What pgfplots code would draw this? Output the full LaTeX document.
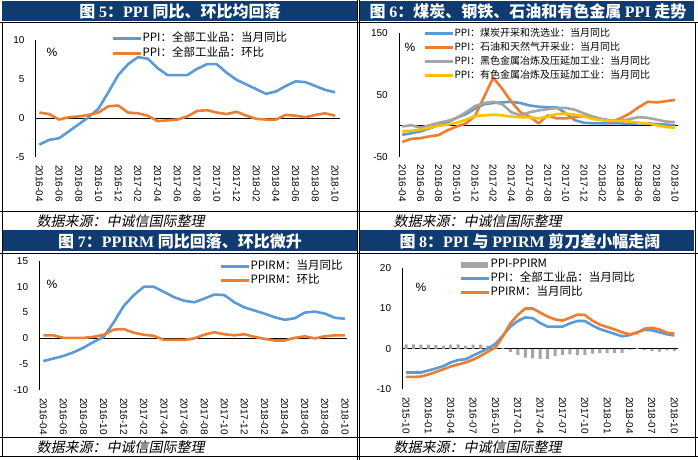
\documentclass[border=0pt]{standalone}
\usepackage{pgfplots}
\pgfplotsset{compat=1.18}
\usepackage{fontspec}
\setmainfont{Liberation Sans}
\newfontfamily\cjk{Noto Sans CJK SC}
\newfontfamily\cjkit{Noto Sans CJK SC}[FakeSlant=0.2]
\newfontfamily\serifb{Liberation Serif}
\newcommand\lat[1]{{\serifb #1}}
\newcommand\ttl{\cjk\bfseries\fontsize{16bp}{18bp}\selectfont}
\newcommand\foot{\cjkit\fontsize{14bp}{16bp}\selectfont}
\definecolor{navy}{HTML}{0F3B6F}
\definecolor{cblue}{HTML}{5B9BD5}
\definecolor{corange}{HTML}{ED7D31}
\definecolor{cgray}{HTML}{A5A5A5}
\definecolor{cyellow}{HTML}{FFC000}
\pgfplotsset{
  base/.style={
    scale only axis,
    axis x line*=bottom, axis y line*=left,
    x axis line style={draw=none},
    y axis line style={-, line width=0.75bp, black},
    major tick length=0pt,
    tick label style={font=\fontsize{10bp}{12bp}\selectfont, inner sep=0pt},
    xticklabel style={rotate=-90, anchor=west},
    xticklabel shift=8bp,
    yticklabel shift=11bp,
    extra y ticks={0}, extra y tick labels={},
    extra y tick style={grid=major, major grid style={black, line width=0.75bp}},
    legend cell align=left,
    legend image code/.code={\draw[#1, line width=2.6bp] (0bp,0bp) -- (28bp,0bp);},
    legend style={draw=none, fill=none, inner sep=0pt, outer sep=0pt,
      nodes={inner sep=0pt, text height=8.5bp, text depth=2.5bp},
      /tikz/every even column/.style={column sep=1bp}},
    every axis plot/.append style={line width=2.6bp, line join=round},
  },
  m16/.style={xtick={0,2,...,30}, xticklabels={2016-04,2016-06,2016-08,2016-10,2016-12,2017-02,2017-04,2017-06,2017-08,2017-10,2017-12,2018-02,2018-04,2018-06,2018-08,2018-10}},
}
\begin{document}
\begin{tikzpicture}
\useasboundingbox (0bp,0bp) rectangle (698bp,460bp);
% title bars
\fill[navy] (2bp,439bp) rectangle (357.5bp,458.5bp);
\fill[navy] (360bp,439bp) rectangle (694bp,458.5bp);
\fill[navy] (2bp,208.5bp) rectangle (357.5bp,230bp);
\fill[navy] (360bp,208.5bp) rectangle (694bp,230bp);
\node[text=white] at (180bp,448.5bp) {\ttl 图 \lat{5}：\lat{PPI} 同比、环比均回落};
\node[text=white] at (528bp,448.5bp) {\ttl 图 \lat{6}：煤炭、钢铁、石油和有色金属 \lat{PPI} 走势};
\node[text=white] at (180bp,219bp) {\ttl 图 \lat{7}：\lat{PPIRM} 同比回落、环比微升};
\node[text=white] at (530bp,219bp) {\ttl 图 \lat{8}：\lat{PPI} 与 \lat{PPIRM} 剪刀差小幅走阔};
% frame lines
\begin{scope}[line width=0.8bp]
\draw (0bp,438bp) -- (698bp,438bp);
\draw (0bp,249bp) -- (698bp,249bp);
\draw (0bp,207bp) -- (698bp,207bp);
\draw (0bp,22.5bp) -- (698bp,22.5bp);
\draw (0bp,4bp) -- (698bp,4bp);
\draw (2bp,4bp) -- (2bp,438bp);
\draw (357.8bp,0bp) -- (357.8bp,460bp);
\draw (359.8bp,0bp) -- (359.8bp,460bp);
\draw (695bp,4bp) -- (695bp,438bp);
\end{scope}
% footers
\node[anchor=west] at (33bp,239bp) {\foot 数据来源：中诚信国际整理};
\node[anchor=west] at (390bp,239bp) {\foot 数据来源：中诚信国际整理};
\node[anchor=west] at (33bp,12.5bp) {\foot 数据来源：中诚信国际整理};
\node[anchor=west] at (390bp,12.5bp) {\foot 数据来源：中诚信国际整理};
% percent labels
\node[font=\fontsize{12bp}{14bp}\selectfont] at (52bp,408bp) {\%};
\node[font=\fontsize{12bp}{14bp}\selectfont] at (410bp,412.3bp) {\%};
\node[font=\fontsize{12bp}{14bp}\selectfont] at (52bp,176bp) {\%};
\node[font=\fontsize{12bp}{14bp}\selectfont] at (421bp,173bp) {\%};

% ---------- Panel 5
\begin{axis}[base, m16, at={(35.7bp,303bp)}, anchor=south west,
  width=304.3bp, height=117bp, xmin=-0.37, xmax=30.5, ymin=-5, ymax=10,
  ytick={-5,0,5,10}, yticklabels={-5,0,5,10},
  legend style={at={(0.2507,1.06)}, anchor=north west,
    font=\cjk\fontsize{11.5bp}{13bp}\selectfont, row sep=4bp}]
\addplot[cblue] coordinates {(0,-3.4)(1,-2.8)(2,-2.6)(3,-1.7)(4,-0.8)(5,0.1)(6,1.2)(7,3.3)(8,5.5)(9,6.9)(10,7.8)(11,7.6)(12,6.4)(13,5.5)(14,5.5)(15,5.5)(16,6.3)(17,6.9)(18,6.9)(19,5.8)(20,4.9)(21,4.3)(22,3.7)(23,3.1)(24,3.4)(25,4.1)(26,4.7)(27,4.6)(28,4.1)(29,3.6)(30,3.3)};
\addlegendentry{PPI：全部工业品：当月同比}
\addplot[corange] coordinates {(0,0.7)(1,0.5)(2,-0.2)(3,0.1)(4,0.2)(5,0.4)(6,0.7)(7,1.5)(8,1.6)(9,0.7)(10,0.6)(11,0.3)(12,-0.4)(13,-0.3)(14,-0.2)(15,0.2)(16,0.9)(17,1.0)(18,0.7)(19,0.5)(20,0.8)(21,0.3)(22,-0.1)(23,-0.2)(24,-0.2)(25,0.4)(26,0.3)(27,0.1)(28,0.4)(29,0.6)(30,0.3)};
\addlegendentry{PPI：全部工业品：环比}
\end{axis}

% ---------- Panel 6
\begin{axis}[base, m16, at={(399bp,303.3bp)}, anchor=south west,
  width=279bp, height=123.4bp, xmin=-0.36, xmax=30.33, ymin=-50, ymax=150,
  ytick={-50,50,150}, yticklabels={-50,50,150},
  legend style={at={(0.0896,1.043)}, anchor=north west,
    font=\cjk\fontsize{10bp}{12bp}\selectfont, row sep=3bp}]
\addplot[cblue] coordinates {(0,-14.4)(1,-12)(2,-9)(3,-4)(4,1)(5,6)(6,13)(7,19)(8,28)(9,35)(10,37)(11,38)(12,39)(13,37)(14,33)(15,31)(16,30)(17,30)(18,20)(19,9)(20,5)(21,4)(22,4)(23,4)(24,4)(25,3)(26,4)(27,4)(28,3)(29,2)(30,1)};
\addlegendentry{PPI：煤炭开采和洗选业：当月同比}
\addplot[corange] coordinates {(0,-26)(1,-21)(2,-20)(3,-17)(4,-15)(5,-7)(6,-1)(7,4)(8,16)(9,47)(10,78)(11,60)(12,39)(13,22)(14,15)(15,4)(16,17)(17,12)(18,12)(19,14)(20,16)(21,12)(22,10)(23,7)(24,12)(25,20)(26,30)(27,39)(28,38)(29,40)(30,42)};
\addlegendentry{PPI：石油和天然气开采业：当月同比}
\addplot[cgray] coordinates {(0,-1)(1,1)(2,-3)(3,1)(4,5)(5,8)(6,13)(7,22)(8,32)(9,37)(10,39)(11,35)(12,22)(13,17)(14,22)(15,25)(16,27)(17,29)(18,29)(19,26)(20,20)(21,15)(22,11)(23,9)(24,8)(25,11)(26,14)(27,13)(28,10)(29,7)(30,6)};
\addlegendentry{PPI：黑色金属冶炼及压延加工业：当月同比}
\addplot[cyellow] coordinates {(0,-9)(1,-8)(2,-6)(3,-3)(4,0)(5,2)(6,5)(7,10)(8,16)(9,17)(10,18)(11,17)(12,15)(13,14)(14,14)(15,12)(16,15)(17,19)(18,20)(19,18)(20,15)(21,11)(22,9)(23,8)(24,8)(25,7)(26,5)(27,4)(28,1)(29,-2)(30,-3)};
\addlegendentry{PPI：有色金属冶炼及压延加工业：当月同比}
\end{axis}

% ---------- Panel 7
\begin{axis}[base, m16, at={(39.3bp,70bp)}, anchor=south west,
  width=307.7bp, height=129bp, xmin=-0.4, xmax=30.2, ymin=-10, ymax=15,
  ytick={-10,-5,0,5,10,15}, yticklabels={-10,-5,0,5,10,15},
  legend style={at={(0.587,1.0)}, anchor=north west,
    font=\cjk\fontsize{11.5bp}{13bp}\selectfont, row sep=3bp}]
\addplot[cblue] coordinates {(0,-4.4)(1,-3.9)(2,-3.4)(3,-2.7)(4,-1.8)(5,-0.7)(6,0.3)(7,3.1)(8,6.3)(9,8.4)(10,10.0)(11,10.0)(12,9.0)(13,8.0)(14,7.3)(15,7.0)(16,7.7)(17,8.5)(18,8.4)(19,7.0)(20,6.0)(21,5.4)(22,4.8)(23,4.1)(24,3.6)(25,3.9)(26,5.0)(27,5.2)(28,4.8)(29,4.0)(30,3.8)};
\addlegendentry{PPIRM：当月同比}
\addplot[corange] coordinates {(0,0.6)(1,0.6)(2,0.1)(3,0.1)(4,0.1)(5,0.3)(6,0.7)(7,1.7)(8,1.8)(9,1.1)(10,0.7)(11,0.5)(12,-0.3)(13,-0.3)(14,-0.3)(15,0.0)(16,0.7)(17,1.2)(18,0.8)(19,0.6)(20,0.8)(21,0.3)(22,-0.1)(23,-0.4)(24,-0.4)(25,0.1)(26,0.4)(27,0.0)(28,0.4)(29,0.6)(30,0.6)};
\addlegendentry{PPIRM：环比}
\end{axis}

% ---------- Panel 8
\begin{axis}[base, at={(402.3bp,71bp)}, anchor=south west,
  width=275.7bp, height=120.7bp, xmin=-0.5, xmax=36.5, ymin=-10, ymax=20,
  ytick={-10,0,10,20}, yticklabels={-10,0,10,20},
  xtick={0,3,...,36}, xticklabels={2015-10,2016-01,2016-04,2016-07,2016-10,2017-01,2017-04,2017-07,2017-10,2018-01,2018-04,2018-07,2018-10},
  legend style={at={(0.209,1.077)}, anchor=north west,
    font=\cjk\fontsize{11.5bp}{13bp}\selectfont, row sep=3bp}]
\addplot[ybar, bar width=3bp, fill=cgray, draw=none, line width=0pt,
  legend image code/.code={\fill[cgray] (0bp,-3bp) rectangle (27bp,3bp);}]
  coordinates {(0,1.1)(1,1.1)(2,1.0)(3,1.0)(4,0.9)(5,0.8)(6,1.0)(7,1.1)(8,0.8)(9,1.0)(10,1.0)(11,0.8)(12,0.9)(13,0.2)(14,-0.8)(15,-1.5)(16,-2.2)(17,-2.4)(18,-2.6)(19,-2.5)(20,-1.8)(21,-1.5)(22,-1.4)(23,-1.6)(24,-1.5)(25,-1.2)(26,-1.1)(27,-1.1)(28,-1.1)(29,-1.0)(30,-0.2)(31,0.2)(32,-0.3)(33,-0.6)(34,-0.7)(35,-0.4)(36,-0.5)};
\addlegendentry{PPI-PPIRM}
\addplot[cblue] coordinates {(0,-5.9)(1,-5.9)(2,-5.9)(3,-5.4)(4,-4.9)(5,-4.3)(6,-3.4)(7,-2.8)(8,-2.6)(9,-1.7)(10,-0.8)(11,0.1)(12,1.2)(13,3.3)(14,5.5)(15,6.9)(16,7.8)(17,7.6)(18,6.4)(19,5.5)(20,5.5)(21,5.5)(22,6.3)(23,6.9)(24,6.9)(25,5.8)(26,4.9)(27,4.3)(28,3.7)(29,3.1)(30,3.4)(31,4.1)(32,4.7)(33,4.6)(34,4.1)(35,3.6)(36,3.3)};
\addlegendentry{PPI：全部工业品：当月同比}
\addplot[corange] coordinates {(0,-7.0)(1,-7.0)(2,-6.9)(3,-6.4)(4,-5.8)(5,-5.1)(6,-4.4)(7,-3.9)(8,-3.4)(9,-2.7)(10,-1.8)(11,-0.7)(12,0.3)(13,3.1)(14,6.3)(15,8.4)(16,10.0)(17,10.0)(18,9.0)(19,8.0)(20,7.3)(21,7.0)(22,7.7)(23,8.5)(24,8.4)(25,7.0)(26,6.0)(27,5.4)(28,4.8)(29,4.1)(30,3.6)(31,3.9)(32,5.0)(33,5.2)(34,4.8)(35,4.0)(36,3.8)};
\addlegendentry{PPIRM：当月同比}
\end{axis}
\end{tikzpicture}
\end{document}
